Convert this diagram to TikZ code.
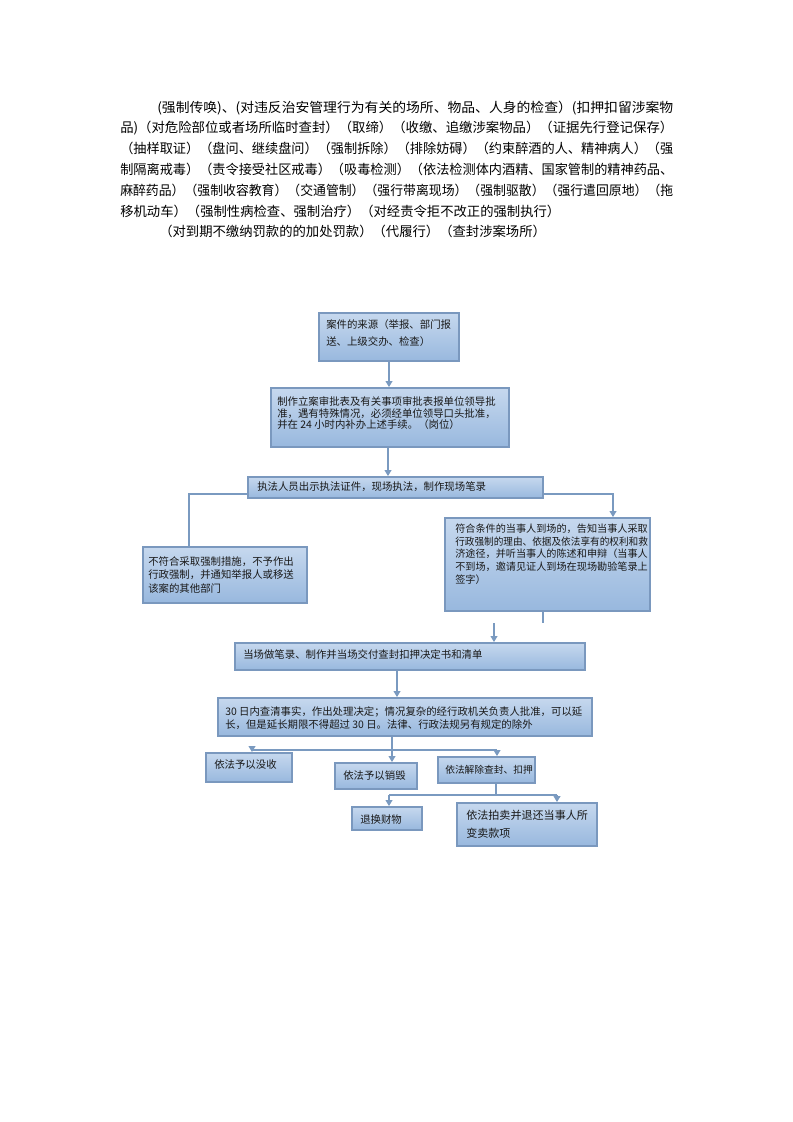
\documentclass[tikz,border=0pt]{standalone}
\usepackage{fontspec}
\usepackage{graphicx}
\newfontfamily\cjk{Noto Sans CJK SC}
\usetikzlibrary{arrows.meta,fit}
\definecolor{bordc}{RGB}{122,152,190}
\definecolor{linec}{RGB}{122,154,192}
\definecolor{boxtop}{RGB}{198,216,238}
\definecolor{boxbot}{RGB}{152,184,222}
\definecolor{txtc}{RGB}{25,25,25}
\newcommand{\fullline}[1]{\resizebox{414.75pt}{\height}{#1}}
\newcommand{\firstline}[1]{\resizebox{387pt}{\height}{#1}}
\newcommand{\boxline}[1]{\resizebox{144.5pt}{\height}{#1}}
\begin{document}
\begin{tikzpicture}[x=0.75pt,y=-0.75pt,
  fbox/.style={draw=bordc, line width=1.3pt, top color=boxtop, bottom color=boxbot, inner sep=0pt},
  btext/.style={anchor=west, inner sep=0pt, align=left, text=txtc, font=\cjk\fontsize{7.8pt}{9.4pt}\selectfont},
  conn/.style={draw=linec, line width=1.4pt},
  arr/.style={conn, -{Triangle[length=4.5pt,width=5pt]}},
  para/.style={anchor=base west, inner sep=0pt, text=black, font=\cjk\fontsize{10pt}{12pt}\selectfont}]
\useasboundingbox[fill=white] (0,0) rectangle (793,1122);

% paragraph
\node[para] (p1) at (157,112) {\firstline{(强制传唤)、(对违反治安管理行为有关的场所、物品、人身的检查）(扣押扣留涉案物}};
\node[para] (p2) at (120,132.8) {\fullline{品)（对危险部位或者场所临时查封）（取缔）（收缴、追缴涉案物品）（证据先行登记保存）}};
\node[para] (p3) at (120,153.6) {\fullline{（抽样取证）（盘问、继续盘问）（强制拆除）（排除妨碍）（约束醉酒的人、精神病人）（强}};
\node[para] (p4) at (120,174.4) {\fullline{制隔离戒毒）（责令接受社区戒毒）（吸毒检测）（依法检测体内酒精、国家管制的精神药品、}};
\node[para] (p5) at (120,195.2) {\fullline{麻醉药品）（强制收容教育）（交通管制）（强行带离现场）（强制驱散）（强行遣回原地）（拖}};
\node[para] (p6) at (120,216) {移机动车）（强制性病检查、强制治疗）（对经责令拒不改正的强制执行）};
\node[para] (p7) at (159,236.8) {（对到期不缴纳罚款的的加处罚款）（代履行）（查封涉案场所）};

% boxes
\node[fbox, fit={(319,313) (459,361)}] (b1) {};
\node[btext, font=\cjk\fontsize{7.8pt}{12.5pt}\selectfont] (t1) at (326,333.3) {案件的来源（举报、部门报\\送、上级交办、检查）};

\node[fbox, fit={(271,388) (509,447)}] (b2) {};
\node[btext, font=\cjk\fontsize{7.8pt}{8.8pt}\selectfont] (t2) at (277,413.3) {制作立案审批表及有关事项审批表报单位领导批\\准，遇有特殊情况，必须经单位领导口头批准，\\并在 24 小时内补办上述手续。（岗位）};

\node[fbox, fit={(248,477) (543,498)}] (b3) {};
\node[btext] (t3) at (257,486.5) {执法人员出示执法证件，现场执法，制作现场笔录};

\node[fbox, fit={(143,547) (307,603)}] (b4) {};
\node[btext, font=\cjk\fontsize{7.8pt}{10.1pt}\selectfont] (t4) at (148,574.7) {不符合采取强制措施，不予作出\\行政强制，并通知举报人或移送\\该案的其他部门};

\node[fbox, fit={(445,518) (650,611)}] (b5) {};
\node[btext, font=\cjk\fontsize{7.6pt}{9.6pt}\selectfont] (t5) at (455,554) {符合条件的当事人到场的，告知当事人采取\\\boxline{行政强制的理由、依据及依法享有的权利和救}\\济途径，并听当事人的陈述和申辩（当事人\\不到场，邀请见证人到场在现场勘验笔录上\\签字）};

\node[fbox, fit={(235,643) (585,670)}] (b6) {};
\node[btext] (t6) at (243,655) {当场做笔录、制作并当场交付查封扣押决定书和清单};

\node[fbox, fit={(218,698) (592,736)}] (b7) {};
\node[btext, font=\cjk\fontsize{7.8pt}{10pt}\selectfont] (t7) at (225,718.3) {30 日内查清事实，作出处理决定；情况复杂的经行政机关负责人批准，可以延\\长，但是延长期限不得超过 30 日。法律、行政法规另有规定的除外};

\node[fbox, fit={(206,753) (292,782)}] (bA) {};
\node[btext] (tA) at (214,765) {依法予以没收};

\node[fbox, fit={(335,763) (417,789)}] (bB) {};
\node[btext] (tB) at (343,775.5) {依法予以销毁};

\node[fbox, fit={(438,757) (535,783)}] (bC) {};
\node[btext, font=\cjk\fontsize{7.3pt}{9pt}\selectfont] (tC) at (445,769.5) {依法解除查封、扣押};

\node[fbox, fit={(352,807) (422,830)}] (bD) {};
\node[btext] (tD) at (360,820) {退换财物};

\node[fbox, fit={(457,803) (597,846)}] (bE) {};
\node[btext, font=\cjk\fontsize{8.3pt}{13.5pt}\selectfont] (tE) at (466,824.5) {依法拍卖并退还当事人所\\变卖款项};

% connectors
\draw[arr] (b1.south) -- (b1.south |- b2.north);
\coordinate (c23) at (388,0);
\draw[arr] (b2.south -| c23) -- (c23 |- b3.north);

\coordinate (lj) at (189,494);
\draw[conn] (b3.west |- lj) -- (lj) -- (lj |- b4.north);
\coordinate (rj) at (613,494);
\draw[arr] (b3.east |- rj) -- (rj) -- (rj |- b5.north);

\coordinate (s5) at (543,623);
\draw[conn] (b5.south -| s5) -- (s5);
\coordinate (s6) at (494,623);
\draw[arr] (s6) -- (s6 |- b6.north);

\coordinate (c67) at (397,0);
\draw[arr] (b6.south -| c67) -- (c67 |- b7.north);

\coordinate (br1) at (392,750);
\coordinate (brL) at (252,750);
\coordinate (brR) at (497,750);
\draw[conn] (b7.south -| br1) -- (br1);
\draw[conn] (brL) -- (brR);
\draw[arr] (brL) -- (brL |- bA.north);
\draw[arr] (br1) -- (br1 |- bB.north);
\draw[arr] (brR) -- (brR |- bC.north);

\coordinate (br2) at (496,795);
\coordinate (br2L) at (389,795);
\coordinate (br2R) at (557,795);
\draw[conn] (bC.south -| br2) -- (br2);
\draw[conn] (br2L) -- (br2R);
\draw[arr] (br2L) -- (br2L |- bD.north);
\draw[arr] (br2R) -- (br2R |- bE.north);
\end{tikzpicture}
\end{document}
